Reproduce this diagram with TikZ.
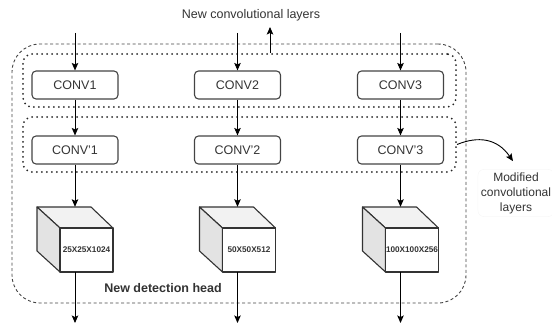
\documentclass[tikz,border=0pt]{standalone}
\usepackage{fontspec}
\setmainfont{Liberation Sans}
\usetikzlibrary{arrows.meta,calc}
\definecolor{linegray}{HTML}{444444}
\definecolor{txtgray}{HTML}{333333}
\definecolor{topface}{HTML}{F2F2F2}
\definecolor{leftface}{HTML}{E3E3E3}
\tikzset{
  arr/.style={draw=black, line width=0.9pt, -{Stealth[length=7.5pt,width=6.5pt,inset=1.5pt]}},
  convbox/.style={draw=linegray, line width=1.1pt, rounded corners=4pt, minimum width=86pt, minimum height=28pt, inner sep=0pt, text=txtgray, font=\fontsize{12.5}{15}\selectfont},
  dotbox/.style={draw=black!85, line width=2pt, dash pattern=on 0pt off 5pt, line cap=round, rounded corners=9pt, minimum width=433pt, inner sep=0pt},
  headbox/.style={draw=linegray, line width=0.9pt, dash pattern=on 3pt off 2.5pt, rounded corners=28pt, minimum width=454pt, minimum height=259pt, inner sep=0pt},
  cubenode/.style={minimum width=76pt, minimum height=65pt, inner sep=0pt},
  cubeface/.style={draw=black!80, line width=1.1pt, line join=round},
  cubelabel/.style={font=\bfseries\fontsize{8.2}{10}\selectfont, text=txtgray, inner sep=0pt},
  lbl/.style={text=txtgray, font=\fontsize{12.5}{15}\selectfont, inner sep=0pt}
}
\newcommand{\mycube}[3]{%
  \node[cubenode] (#1) at (#2,239.5) {};
  \filldraw[cubeface, fill=topface] ({#2-38},207) -- ({#2+16},207) -- ({#2+38},228) -- ({#2-15},228) -- cycle;
  \filldraw[cubeface, fill=leftface] ({#2-38},207) -- ({#2-15},228) -- ({#2-15},272) -- ({#2-38},251) -- cycle;
  \filldraw[cubeface, fill=white] ({#2-15},228) -- ({#2+38},228) -- ({#2+38},272) -- ({#2-15},272) -- cycle;
  \node[cubelabel] at ({#2+11.5},250) {#3};
}
\begin{document}
\begin{tikzpicture}[x=1pt, y=-1pt]
\useasboundingbox (0,0) rectangle (552,329);

% containers
\node[headbox] (head) at (239,173.5) {};
\node[dotbox, minimum height=53pt] (dot1) at (239.5,80.5) {};
\node[dotbox, minimum height=55pt] (dot2) at (239.5,144.5) {};

% conv boxes
\node[convbox] (c1) at (75,85) {CONV1};
\node[convbox] (c2) at (237.5,85) {CONV2};
\node[convbox] (c3) at (400.5,85) {CONV3};
\node[convbox] (d1) at (75,150) {CONV'1};
\node[convbox] (d2) at (237.5,150) {CONV'2};
\node[convbox] (d3) at (400.5,150) {CONV'3};

% cubes
\mycube{k1}{75}{25X25X1024}
\mycube{k2}{237.5}{50X50X512}
\mycube{k3}{400.5}{100X100X256}

% labels
\node[lbl] (newconv) at (251,15) {New convolutional layers};
\node[lbl, font=\bfseries\fontsize{12.5}{15}\selectfont] (dethead) at (163,288) {New detection head};
\node[lbl, font=\fontsize{12}{15}\selectfont, align=center, draw=black!3, line width=0.5pt, rounded corners=6pt, inner sep=3pt] (mod) at (516,193) {Modified\\convolutional\\layers};

% free ends
\coordinate (i1) at (75,33);
\coordinate (i2) at (237.5,33);
\coordinate (i3) at (400.5,33);
\coordinate (o1) at (75,323);
\coordinate (o2) at (237.5,323);
\coordinate (o3) at (400.5,323);
\coordinate (up) at (270,27);

% arrows
\draw[arr] (i1) -- (c1.north);
\draw[arr] (i2) -- (c2.north);
\draw[arr] (i3) -- (c3.north);
\draw[arr] (c1.south) -- (d1.north);
\draw[arr] (c2.south) -- (d2.north);
\draw[arr] (c3.south) -- (d3.north);
\draw[arr] (d1.south) -- (k1.north);
\draw[arr] (d2.south) -- (k2.north);
\draw[arr] (d3.south) -- (k3.north);
\draw[arr] (k1.south) -- (o1);
\draw[arr] (k2.south) -- (o2);
\draw[arr] (k3.south) -- (o3);
\draw[arr] (dot1.north -| up) -- (up);
\draw[arr] (dot2.east) .. controls (478,136) and (497,138) .. ($(mod.north)+(-3,-8)$);
\end{tikzpicture}
\end{document}
